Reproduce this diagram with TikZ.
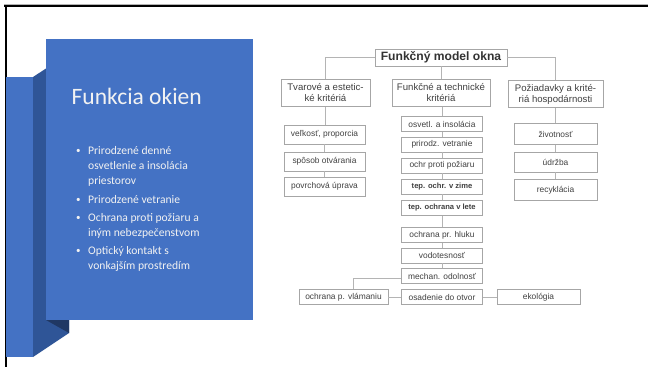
\documentclass[tikz,border=0pt]{standalone}
\usepackage{fontspec}
\setmainfont{Liberation Sans}
\newfontfamily\slidefont{Carlito}
\definecolor{panelblue}{HTML}{4472C4}
\definecolor{sideblue}{HTML}{2F5597}
\definecolor{shadeblue}{HTML}{203864}
\definecolor{boxline}{HTML}{A6A6A6}
\definecolor{linkline}{HTML}{B4B4B4}
\definecolor{boxtext}{HTML}{404040}
\definecolor{paneltext}{HTML}{F2F2F2}
\tikzset{
  chartbox/.style={draw=boxline, line width=0.8pt, fill=white, text=boxtext,
    inner sep=1pt, align=center, font=\fontsize{8.4}{9}\selectfont},
  smallbox/.style={chartbox, minimum width=81pt, minimum height=15pt},
  boldbox/.style={smallbox, font=\bfseries\fontsize{7.6}{9}\selectfont},
  headbox/.style={chartbox, minimum height=27pt, font=\fontsize{9.6}{11}\selectfont},
  link/.style={draw=linkline, line width=0.8pt},
  bulletline/.style={anchor=base west, inner sep=0pt, text=paneltext,
    font=\slidefont\fontsize{11.6}{14}\selectfont},
}
\begin{document}
\begin{tikzpicture}[x=1pt, y=-1pt]
\useasboundingbox (0,0) rectangle (648,367);

% slide frame edges
\draw[gray!60, line width=0.6pt] (4,4) -- (648,4);
\draw[black, line width=2pt] (4,5.8) -- (648,5.8);
\draw[black, line width=2pt] (5.5,5) -- (5.5,367);

% folded blue banner
\fill[panelblue] (6,77) rectangle (33,357);
\fill[sideblue] (33,77) -- (46,68.5) -- (46,320) -- (69,320) -- (69,333) -- (33,357) -- cycle;
\fill[shadeblue] (46,320) -- (69,320) -- (69,333) -- cycle;
\fill[panelblue] (46,39) rectangle (253,320);

% panel title and bullets
\node[anchor=base west, inner sep=0pt, text=paneltext,
  font=\slidefont\fontsize{23.5}{26}\selectfont] (title) at (71.5,104.5) {Funkcia okien};

\foreach \y in {154,203,221,254}
  \node[bulletline, font=\slidefont\fontsize{9}{14}\selectfont] at (76,\y-0.5) {\textbullet};
\node[bulletline] (b1a) at (88,154) {Prirodzené denné};
\node[bulletline] (b1b) at (88,169) {osvetlenie a insolácia};
\node[bulletline] (b1c) at (88,184) {priestorov};
\node[bulletline] (b2a) at (88,203) {Prirodzené vetranie};
\node[bulletline] (b3a) at (88,221) {Ochrana proti požiaru a};
\node[bulletline] (b3b) at (88,236) {iným nebezpečenstvom};
\node[bulletline] (b4a) at (88,254) {Optický kontakt s};
\node[bulletline] (b4b) at (88,269) {vonkajším prostredím};

% functional model chart
\node[chartbox, minimum width=132pt, minimum height=17pt,
  font=\bfseries\fontsize{12.1}{14}\selectfont, text=black!80] (model) at (441,57.5) {Funkčný model okna};

\node[headbox, minimum width=89pt] (shape) at (325.5,93) {Tvarové a estetic-\\ké kritériá};
\node[headbox, minimum width=98pt] (tech) at (441,93) {Funkčné a technické\\kritériá};
\node[headbox, minimum width=95pt] (econ) at (555.5,94) {Požiadavky a krité-\\riá hospodárnosti};

% left column
\node[smallbox, minimum height=19pt] (c1a) at (324.5,134.5) {veľkosť, proporcia};
\node[smallbox, minimum height=19pt] (c1b) at (324.5,161.5) {spôsob otvárania};
\node[smallbox, minimum height=19pt] (c1c) at (324.5,186.5) {povrchová úprava};

% middle column
\node[smallbox] (c2a) at (442,124) {osvetl. a insolácia};
\node[smallbox] (c2b) at (442,144.5) {prirodz. vetranie};
\node[smallbox] (c2c) at (442,165.5) {ochr proti požiaru};
\node[boldbox] (c2d) at (442,186.5) {tep. ochr. v zime};
\node[boldbox] (c2e) at (442,208) {tep. ochrana v lete};
\node[smallbox] (c2f) at (442,235) {ochrana pr. hluku};
\node[smallbox] (c2g) at (442,255.5) {vodotesnosť};
\node[smallbox] (c2h) at (442,276) {mechan. odolnosť};
\node[smallbox] (c2i) at (442,297) {osadenie do otvor};

% right column
\node[smallbox, minimum width=83pt, minimum height=21pt] (c3a) at (555.5,134) {životnosť};
\node[smallbox, minimum width=83pt, minimum height=20pt] (c3b) at (555.5,162) {údržba};
\node[smallbox, minimum width=83pt, minimum height=21pt] (c3c) at (555.5,190) {recyklácia};

% bottom row
\node[smallbox, minimum width=89pt] (burg) at (343.5,297) {ochrana p. vlámaniu};
\node[smallbox, minimum width=83pt] (eco) at (538.5,297) {ekológia};

% connectors
\path[link] (model.west) -| (shape.north);
\path[link] (model.east) -| (econ.north);
\path[link] (model.south) -- (model.south |- tech.north);

\path[link] (shape.south) -- (shape.south |- c1a.north);
\path[link] (c1a) -- (c1b);
\path[link] (c1b) -- (c1c);

\path[link] (tech.south -| c2a.north) -- (c2a.north);
\path[link] (c2a) -- (c2b);
\path[link] (c2b) -- (c2c);
\path[link] (c2c) -- (c2d);
\path[link] (c2d) -- (c2e);
\path[link] (c2e) -- (c2f);
\path[link] (c2f) -- (c2g);
\path[link] (c2g) -- (c2h);

\path[link] (econ.south) -- (econ.south |- c3a.north);
\path[link] (c3a) -- (c3b);
\path[link] (c3b) -- (c3c);

\coordinate (burgtop) at ([xshift=9.5pt]burg.north);
\path[link] ([yshift=-2pt]c2h.west) -| (burgtop);
\path[link] (burg) -- (c2i);
\path[link] (c2i) -- (eco);
\end{tikzpicture}
\end{document}
